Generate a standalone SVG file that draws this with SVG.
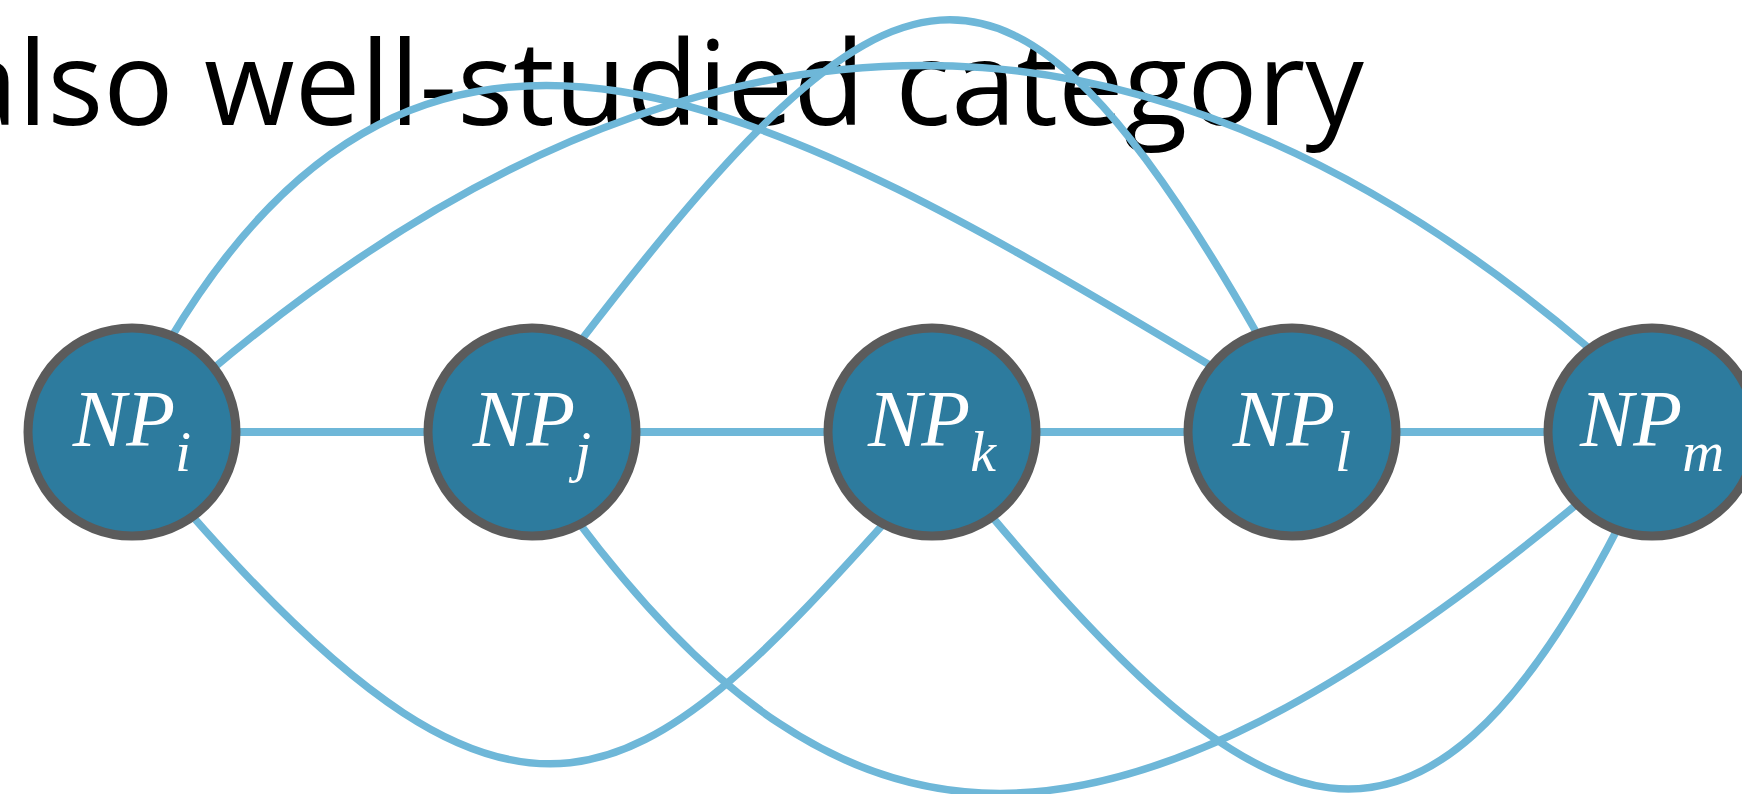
<svg xmlns="http://www.w3.org/2000/svg" width="1742" height="794" viewBox="0 0 1742 794">
  <style>
    .title { font-family: "Open Sans", "Liberation Sans", sans-serif; font-size: 117px; fill: #000; }
    .edge { fill: none; stroke: #6eb7d8; stroke-width: 7.5; }
    .straight { stroke-width: 8; }
    .node circle { fill: #2d7b9e; stroke: #5b5b5b; stroke-width: 9; }
    .node text { font-family: "Liberation Serif", "Times New Roman", serif; font-style: italic; font-size: 80px; fill: #fff; text-anchor: middle; }
    .node .sub { font-size: 58px; }
  </style>

  <!-- heading line, partly covered by the arcs -->
  <text class="title" x="-47" y="125">also well-studied category</text>

  <!-- connectors -->
  <g id="edges">
    <line class="edge straight" x1="132" y1="432" x2="532" y2="432"/>
    <line class="edge straight" x1="532" y1="432" x2="932" y2="432"/>
    <line class="edge straight" x1="932" y1="432" x2="1292" y2="432"/>
    <line class="edge straight" x1="1292" y1="432" x2="1652" y2="432"/>
    <!-- arcs above -->
    <path class="edge" d="M169,341 C427,-92 767,100 1213,367"/>
    <path class="edge" d="M209,372 C780,-110 1240,50 1590,349"/>
    <path class="edge" d="M579,343 C890,-61 1004,-112 1259,337"/>
    <!-- arcs below -->
    <path class="edge" d="M187,510 C523,895 639,796 888,519"/>
    <path class="edge" d="M576,519 C846,879 1102,897 1582,500"/>
    <path class="edge" d="M988,512 C1260,837 1417,918 1619,526"/>
  </g>

  <g id="np-i" class="node">
    <circle cx="132" cy="432" r="104"/>
    <text x="132" y="446">NP<tspan class="sub" dy="25">i</tspan></text>
  </g>
  <g id="np-j" class="node">
    <circle cx="532" cy="432" r="104"/>
    <text x="532" y="446">NP<tspan class="sub" dy="25">j</tspan></text>
  </g>
  <g id="np-k" class="node">
    <circle cx="932" cy="432" r="104"/>
    <text x="932" y="446">NP<tspan class="sub" dy="25">k</tspan></text>
  </g>
  <g id="np-l" class="node">
    <circle cx="1292" cy="432" r="104"/>
    <text x="1292" y="446">NP<tspan class="sub" dy="25">l</tspan></text>
  </g>
  <g id="np-m" class="node">
    <circle cx="1652" cy="432" r="104"/>
    <text x="1652" y="446">NP<tspan class="sub" dy="25">m</tspan></text>
  </g>
</svg>
